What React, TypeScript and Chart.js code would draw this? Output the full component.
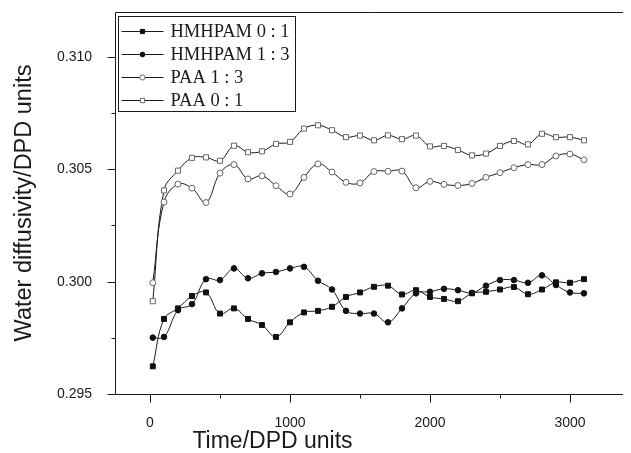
import React, { useEffect, useRef } from 'react';
import { Chart, registerables } from 'chart.js';

Chart.register(...registerables);

const times = [20, 100, 200, 300, 400, 500, 600, 700, 800, 900, 1000, 1100, 1200, 1300, 1400, 1500, 1600, 1700, 1800, 1900, 2000, 2100, 2200, 2300, 2400, 2500, 2600, 2700, 2800, 2900, 3000, 3100];

const hmhpam01 = [0.29623, 0.29834, 0.29881, 0.29936, 0.29952, 0.29858, 0.29881, 0.29834, 0.29807, 0.29754, 0.29819, 0.29863, 0.2987, 0.29888, 0.29932, 0.29952, 0.29977, 0.29982, 0.29943, 0.29962, 0.29932, 0.29923, 0.29913, 0.29948, 0.29955, 0.29965, 0.29976, 0.29944, 0.29965, 0.29997, 0.29995, 0.30011];
const hmhpam13 = [0.29751, 0.29754, 0.29873, 0.299, 0.30011, 0.30007, 0.30059, 0.30015, 0.30037, 0.30043, 0.30059, 0.30066, 0.30004, 0.29965, 0.2987, 0.29858, 0.29858, 0.29819, 0.29881, 0.29948, 0.29955, 0.29968, 0.29962, 0.2995, 0.29982, 0.30007, 0.30007, 0.29995, 0.30028, 0.29985, 0.29952, 0.29948];
const paa13 = [0.29995, 0.30354, 0.30434, 0.30416, 0.30352, 0.30483, 0.30521, 0.30457, 0.30471, 0.30427, 0.3039, 0.30464, 0.30524, 0.30488, 0.30442, 0.30439, 0.3049, 0.30491, 0.30492, 0.30418, 0.30446, 0.30433, 0.30428, 0.30437, 0.30464, 0.30485, 0.30507, 0.30521, 0.30521, 0.30559, 0.30568, 0.30542];
const paa01 = [0.29913, 0.30406, 0.30494, 0.30551, 0.30553, 0.30538, 0.30605, 0.30576, 0.3058, 0.30613, 0.30622, 0.30681, 0.30696, 0.30674, 0.30643, 0.3065, 0.30629, 0.30651, 0.30634, 0.3065, 0.30602, 0.30604, 0.30586, 0.30562, 0.3057, 0.30604, 0.30626, 0.30611, 0.30658, 0.30643, 0.30643, 0.30629];

const seriesLabels = ['HMHPAM 0 : 1', 'HMHPAM 1 : 3', 'PAA 1 : 3', 'PAA 0 : 1'];
const seriesValues = [hmhpam01, hmhpam13, paa13, paa01];

const yMajorTicks = [0.295, 0.3, 0.305, 0.31];
const yMinorTicks = [0.2975, 0.3025, 0.3075];
const xMajorTicks = [0, 1000, 2000, 3000];
const xMinorTicks = [500, 1500, 2500];

const xTitle = 'Time/DPD units';
const yTitle = 'Water diffusivity/DPD units';

const markerStyles = [
  { pointStyle: 'rect', radius: 3.5, fill: '#111', stroke: '#111' },
  { pointStyle: 'circle', radius: 2.8, fill: '#111', stroke: '#111' },
  { pointStyle: 'circle', radius: 3, fill: '#fff', stroke: '#666' },
  { pointStyle: 'rect', radius: 3.6, fill: '#fff', stroke: '#666' },
];

const SANS = '"Liberation Sans", Arial, sans-serif';
const SERIF = '"Liberation Serif", "Times New Roman", serif';
const INK = '#1a1a1a';

function drawMarker(ctx: CanvasRenderingContext2D, style: string, x: number, y: number, r: number, fill: string, stroke: string) {
  ctx.save();
  ctx.fillStyle = fill;
  ctx.strokeStyle = stroke;
  ctx.lineWidth = 1;
  ctx.beginPath();
  if (style === 'rect') {
    const s = Math.SQRT1_2 * r;
    ctx.rect(x - s, y - s, 2 * s, 2 * s);
  } else {
    ctx.arc(x, y, r, 0, Math.PI * 2);
  }
  ctx.fill();
  ctx.stroke();
  ctx.restore();
}

const framePlugin = {
  id: 'frameTicks',
  afterDraw(chart: any) {
    const { ctx, chartArea: a, scales } = chart;
    const xs = scales.x;
    const ys = scales.y;
    ctx.save();
    ctx.strokeStyle = INK;
    ctx.lineWidth = 1;
    const L = Math.round(a.left) + 0.5;
    const T = Math.round(a.top) + 0.5;
    const B = Math.round(a.bottom) + 0.5;
    const R = chart.width;
    ctx.beginPath();
    ctx.moveTo(R, T);
    ctx.lineTo(L, T);
    ctx.lineTo(L, B);
    ctx.lineTo(R, B);
    yMajorTicks.forEach((v) => {
      const py = Math.round(ys.getPixelForValue(v)) + 0.5;
      ctx.moveTo(L - 8, py);
      ctx.lineTo(L, py);
    });
    yMinorTicks.forEach((v) => {
      const py = Math.round(ys.getPixelForValue(v)) + 0.5;
      ctx.moveTo(L - 4, py);
      ctx.lineTo(L, py);
    });
    xMajorTicks.forEach((v) => {
      const px = Math.round(xs.getPixelForValue(v)) + 0.5;
      ctx.moveTo(px, B);
      ctx.lineTo(px, B + 8);
    });
    xMinorTicks.forEach((v) => {
      const px = Math.round(xs.getPixelForValue(v)) + 0.5;
      ctx.moveTo(px, B);
      ctx.lineTo(px, B + 4);
    });
    ctx.stroke();

    ctx.fillStyle = INK;
    ctx.font = `23px ${SANS}`;
    ctx.textAlign = 'center';
    ctx.textBaseline = 'middle';
    ctx.fillText(xTitle, a.left + 157.5, a.bottom + 48);

    const bx = Math.round(a.left) + 3.5;
    const by = Math.round(a.top) + 4.5;
    const bw = 177;
    const bh = 95;
    ctx.fillStyle = '#fff';
    ctx.fillRect(bx, by, bw, bh);
    ctx.strokeStyle = INK;
    ctx.strokeRect(bx, by, bw, bh);
    ctx.font = `18.5px ${SERIF}`;
    ctx.textAlign = 'left';
    ctx.textBaseline = 'middle';
    seriesLabels.forEach((label, i) => {
      const ry = Math.round(by + 14 + i * 23.1) + 0.5;
      ctx.strokeStyle = INK;
      ctx.beginPath();
      ctx.moveTo(bx + 3, ry);
      ctx.lineTo(bx + 45, ry);
      ctx.stroke();
      const m = markerStyles[i];
      drawMarker(ctx, m.pointStyle, bx + 24, ry, m.radius * 0.85, m.fill, m.stroke);
      ctx.fillStyle = INK;
      ctx.fillText(label, bx + 52, ry + 1);
    });
    ctx.restore();
  },
};

export default function App() {
  const ref = useRef<HTMLCanvasElement | null>(null);

  useEffect(() => {
    document.documentElement.style.overflow = 'hidden';
    const canvas = ref.current;
    if (!canvas) return;
    const datasets = seriesValues.map((vals, i) => {
      const m = markerStyles[i];
      return {
        label: seriesLabels[i],
        data: times.map((t, k) => ({ x: t, y: vals[k] })),
        borderColor: INK,
        borderWidth: 1,
        tension: 0.4,
        pointStyle: m.pointStyle,
        pointRadius: m.radius,
        pointBackgroundColor: m.fill,
        pointBorderColor: m.stroke,
        pointBorderWidth: 1,
        fill: false,
      };
    });
    const chart = new Chart(canvas, {
      type: 'line',
      data: { datasets } as any,
      options: {
        responsive: false,
        animation: false,
        devicePixelRatio: 1,
        layout: { padding: { top: 4, right: 0, left: 0, bottom: 0 }, autoPadding: false },
        plugins: {
          legend: { display: false },
          tooltip: { enabled: false },
        },
        scales: {
          x: {
            type: 'linear',
            min: -250,
            max: 3436,
            grid: { display: false },
            border: { display: false },
            ticks: {
              padding: 13,
              autoSkip: false,
              maxRotation: 0,
              color: INK,
              font: { family: SANS, size: 14 },
              callback: (v: any) => String(v),
            },
            afterBuildTicks: (s: any) => {
              s.ticks = xMajorTicks.map((v) => ({ value: v }));
            },
            afterFit: (s: any) => {
              s.height = 59;
              s.paddingLeft = 0;
              s.paddingRight = 0;
            },
          },
          y: {
            type: 'linear',
            min: 0.295,
            max: 0.312,
            grid: { display: false },
            border: { display: false },
            ticks: {
              padding: 15,
              autoSkip: false,
              color: INK,
              font: { family: SANS, size: 14 },
              callback: (v: any) => Number(v).toFixed(3),
            },
            afterBuildTicks: (s: any) => {
              s.ticks = yMajorTicks.map((v) => ({ value: v }));
            },
            title: {
              display: true,
              text: yTitle,
              color: INK,
              font: { family: SANS, size: 23.5 },
              padding: { top: 2, bottom: 0 },
            },
            afterFit: (s: any) => {
              s.width = 107;
              s.paddingTop = 0;
              s.paddingBottom = 0;
            },
          },
        },
      } as any,
      plugins: [framePlugin],
    });
    return () => chart.destroy();
  }, []);

  return (
    <div style={{ width: 623, height: 445, overflow: 'hidden' }}>
      <canvas ref={ref} width={623} height={445} style={{ display: 'block', width: 623, height: 445 }} />
    </div>
  );
}
